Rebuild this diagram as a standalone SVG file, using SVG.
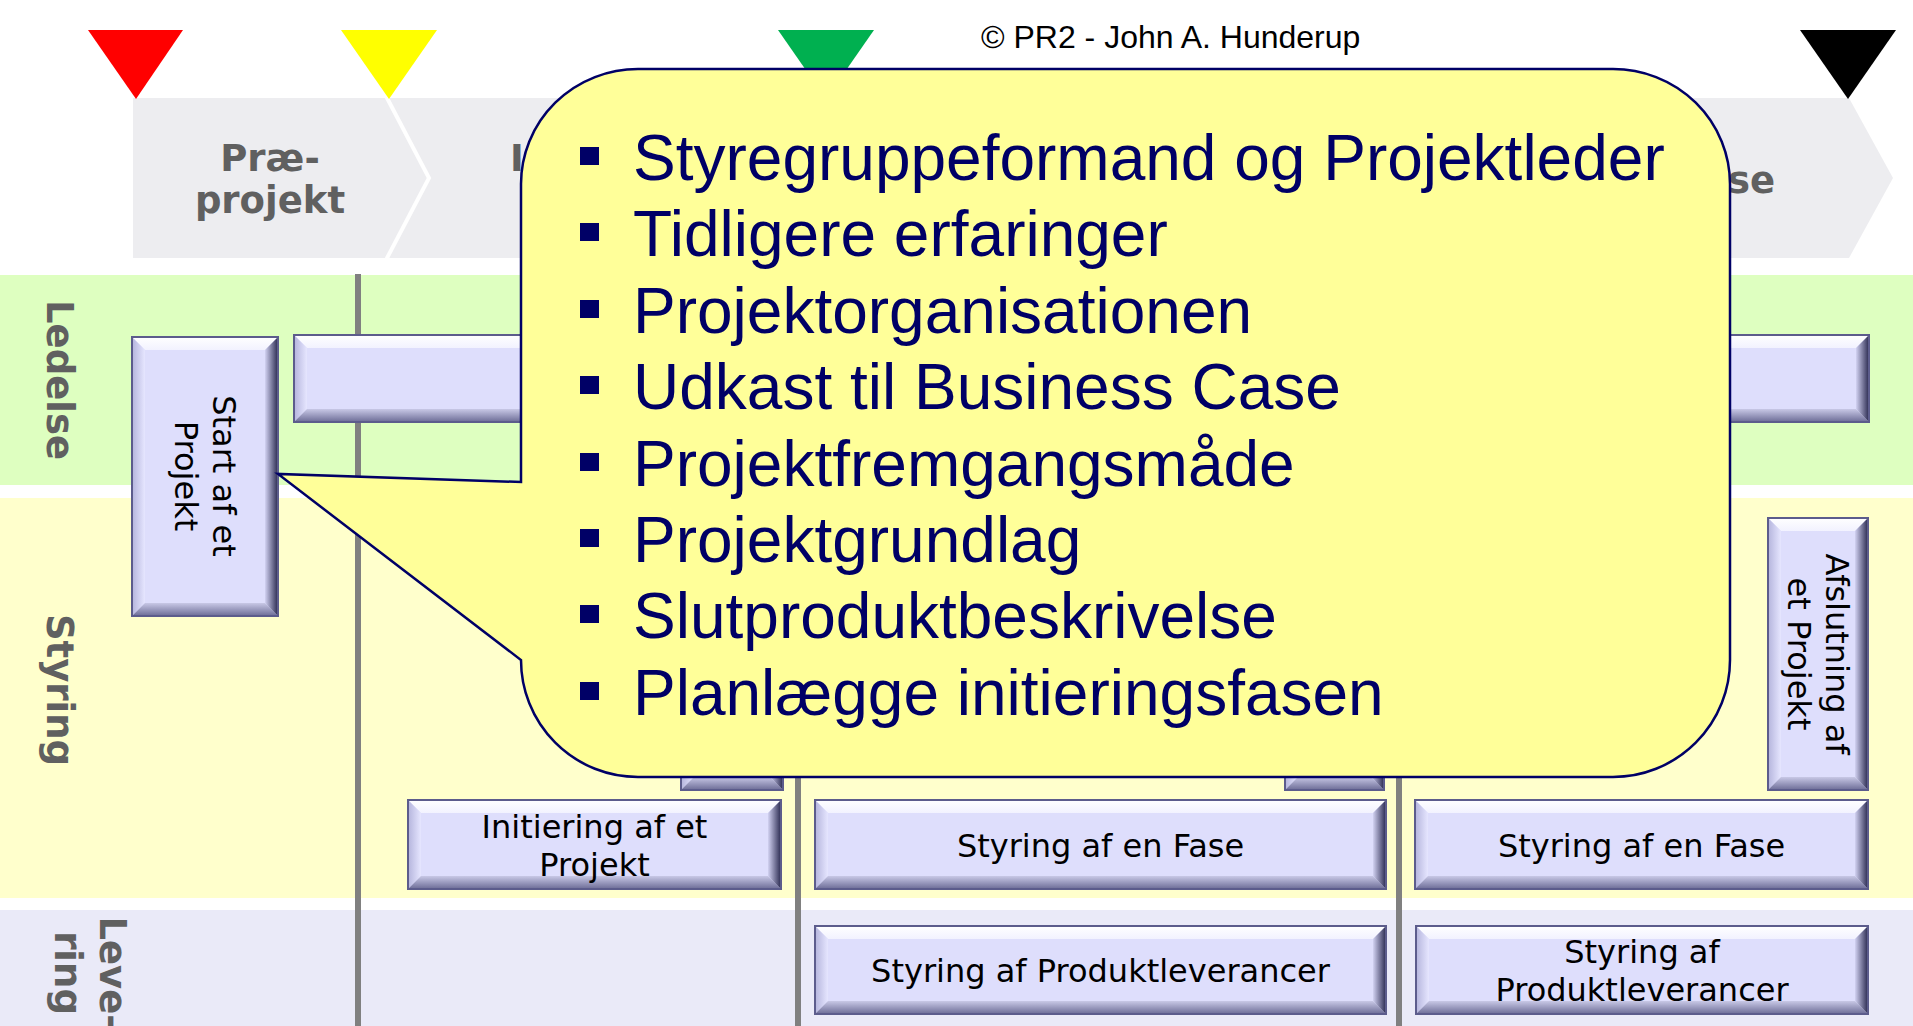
<svg xmlns="http://www.w3.org/2000/svg" width="1913" height="1026" viewBox="0 0 1913 1026">
<defs>
<linearGradient id="gTop" x1="0" y1="0" x2="0" y2="1"><stop offset="0" stop-color="#FFFFFF"/><stop offset="1" stop-color="#F2F2FF"/></linearGradient>
<linearGradient id="gLeft" x1="0" y1="0" x2="1" y2="0"><stop offset="0" stop-color="#B4B4DC"/><stop offset="1" stop-color="#E6E6FF"/></linearGradient>
<linearGradient id="gBottom" x1="0" y1="0" x2="0" y2="1"><stop offset="0" stop-color="#C8C8E6"/><stop offset="1" stop-color="#6C6C96"/></linearGradient>
<linearGradient id="gRight" x1="0" y1="0" x2="1" y2="0"><stop offset="0" stop-color="#D2D2F2"/><stop offset="1" stop-color="#2A2A50"/></linearGradient>
<style>
.face{fill:#DEDEFC}
.bt{fill:url(#gTop)}
.bl{fill:url(#gLeft)}
.bb{fill:url(#gBottom)}
.br{fill:url(#gRight)}
.edge{fill:none;stroke:#5C5C8C;stroke-width:2}
.bx{font-family:"DejaVu Sans",Verdana,sans-serif;font-size:32px;fill:#000;text-anchor:middle}
.lbl{font-family:"DejaVu Sans",Verdana,sans-serif;font-weight:bold;font-size:37px;fill:#606060;text-anchor:middle}
.co{font-family:"Liberation Sans",Arial,sans-serif;font-size:64px;fill:#000066}
.bul{fill:#000066}
.grid{stroke:#808080;stroke-width:6}
</style>
</defs>
<rect x="0" y="0" width="1913" height="1026" fill="#FFFFFF"/>
<g id="lanes">
<rect x="0" y="275" width="1913" height="210" fill="#DEFFC0"/>
<rect x="0" y="498" width="1913" height="400" fill="#FFFFCC"/>
<rect x="0" y="910" width="1913" height="116" fill="#EAEAF8"/>
</g>
<g id="phases">
<polygon points="133,98 1849,98 1893,178 1849,258 133,258" fill="#EDEDF0"/>
<polyline points="386,96 429,178 386,260" fill="none" stroke="#FFFFFF" stroke-width="4"/>
<text class="lbl" x="270" y="171">Præ-</text>
<text class="lbl" x="270" y="213">projekt</text>
<text class="lbl" x="517" y="171">I</text>
<text class="lbl" x="1775" y="193" style="text-anchor:end">se</text>
</g>
<g id="milestones">
<polygon points="88,30 183,30 136,99" fill="#FF0000"/>
<polygon points="341,30 437,30 389,99" fill="#FFFF00"/>
<polygon points="778,30 874,30 826,99" fill="#00B050"/>
<polygon points="1800,30 1896,30 1848,99" fill="#000000"/>
</g>
<g id="connectors">
<line class="grid" x1="358" y1="274" x2="358" y2="1026"/>
<line class="grid" x1="798" y1="274" x2="798" y2="1026"/>
<line class="grid" x1="1399" y1="274" x2="1399" y2="1026"/>
</g>
<g id="lane-labels">
<text class="lbl" transform="translate(47,380) rotate(90)">Ledelse</text>
<text class="lbl" transform="translate(47,690) rotate(90)">Styring</text>
<text class="lbl" transform="translate(100,973) rotate(90)">Leve-</text>
<text class="lbl" transform="translate(55,973) rotate(90)">ring</text>
</g>
<g id="box-start">
<rect class="face" x="132" y="337" width="146" height="279"/>
<polygon class="bt" points="132,337 278,337 265,350 145,350"/>
<polygon class="bl" points="132,337 145,350 145,603 132,616"/>
<polygon class="bb" points="132,616 145,603 265,603 278,616"/>
<polygon class="br" points="278,337 265,350 265,603 278,616"/>
<rect class="edge" x="132" y="337" width="146" height="279"/>
<g transform="translate(205,476) rotate(90)">
<text class="bx" x="0" y="-8">Start af et</text>
<text class="bx" x="0" y="30">Projekt</text>
</g>
</g>
<g id="box-ledelse">
<rect class="face" x="294" y="335" width="1575" height="87"/>
<polygon class="bt" points="294,335 1869,335 1856,348 307,348"/>
<polygon class="bl" points="294,335 307,348 307,409 294,422"/>
<polygon class="bb" points="294,422 307,409 1856,409 1869,422"/>
<polygon class="br" points="1869,335 1856,348 1856,409 1869,422"/>
<rect class="edge" x="294" y="335" width="1575" height="87"/>
</g>
<g id="box-afslutning">
<rect class="face" x="1768" y="518" width="100" height="272"/>
<polygon class="bt" points="1768,518 1868,518 1855,531 1781,531"/>
<polygon class="bl" points="1768,518 1781,531 1781,777 1768,790"/>
<polygon class="bb" points="1768,790 1781,777 1855,777 1868,790"/>
<polygon class="br" points="1868,518 1855,531 1855,777 1868,790"/>
<rect class="edge" x="1768" y="518" width="100" height="272"/>
<g transform="translate(1818,654) rotate(90)">
<text class="bx" x="0" y="-8">Afslutning af</text>
<text class="bx" x="0" y="30">et Projekt</text>
</g>
</g>
<g id="box-hidden-1">
<rect class="face" x="681" y="518" width="102" height="272"/>
<polygon class="bt" points="681,518 783,518 770,531 694,531"/>
<polygon class="bl" points="681,518 694,531 694,777 681,790"/>
<polygon class="bb" points="681,790 694,777 770,777 783,790"/>
<polygon class="br" points="783,518 770,531 770,777 783,790"/>
<rect class="edge" x="681" y="518" width="102" height="272"/>
</g>
<g id="box-hidden-2">
<rect class="face" x="1285" y="518" width="99" height="272"/>
<polygon class="bt" points="1285,518 1384,518 1371,531 1298,531"/>
<polygon class="bl" points="1285,518 1298,531 1298,777 1285,790"/>
<polygon class="bb" points="1285,790 1298,777 1371,777 1384,790"/>
<polygon class="br" points="1384,518 1371,531 1371,777 1384,790"/>
<rect class="edge" x="1285" y="518" width="99" height="272"/>
</g>
<g id="box-initiering">
<rect class="face" x="408" y="800" width="373" height="89"/>
<polygon class="bt" points="408,800 781,800 768,813 421,813"/>
<polygon class="bl" points="408,800 421,813 421,876 408,889"/>
<polygon class="bb" points="408,889 421,876 768,876 781,889"/>
<polygon class="br" points="781,800 768,813 768,876 781,889"/>
<rect class="edge" x="408" y="800" width="373" height="89"/>
<text class="bx" x="594.5" y="838">Initiering af et</text>
<text class="bx" x="594.5" y="876">Projekt</text>
</g>
<g id="box-fase-1">
<rect class="face" x="815" y="800" width="571" height="89"/>
<polygon class="bt" points="815,800 1386,800 1373,813 828,813"/>
<polygon class="bl" points="815,800 828,813 828,876 815,889"/>
<polygon class="bb" points="815,889 828,876 1373,876 1386,889"/>
<polygon class="br" points="1386,800 1373,813 1373,876 1386,889"/>
<rect class="edge" x="815" y="800" width="571" height="89"/>
<text class="bx" x="1100.5" y="857">Styring af en Fase</text>
</g>
<g id="box-fase-2">
<rect class="face" x="1415" y="800" width="453" height="89"/>
<polygon class="bt" points="1415,800 1868,800 1855,813 1428,813"/>
<polygon class="bl" points="1415,800 1428,813 1428,876 1415,889"/>
<polygon class="bb" points="1415,889 1428,876 1855,876 1868,889"/>
<polygon class="br" points="1868,800 1855,813 1855,876 1868,889"/>
<rect class="edge" x="1415" y="800" width="453" height="89"/>
<text class="bx" x="1641.5" y="857">Styring af en Fase</text>
</g>
<g id="box-prod-1">
<rect class="face" x="815" y="926" width="571" height="88"/>
<polygon class="bt" points="815,926 1386,926 1373,939 828,939"/>
<polygon class="bl" points="815,926 828,939 828,1001 815,1014"/>
<polygon class="bb" points="815,1014 828,1001 1373,1001 1386,1014"/>
<polygon class="br" points="1386,926 1373,939 1373,1001 1386,1014"/>
<rect class="edge" x="815" y="926" width="571" height="88"/>
<text class="bx" x="1100.5" y="982">Styring af Produktleverancer</text>
</g>
<g id="box-prod-2">
<rect class="face" x="1416" y="926" width="452" height="88"/>
<polygon class="bt" points="1416,926 1868,926 1855,939 1429,939"/>
<polygon class="bl" points="1416,926 1429,939 1429,1001 1416,1014"/>
<polygon class="bb" points="1416,1014 1429,1001 1855,1001 1868,1014"/>
<polygon class="br" points="1868,926 1855,939 1855,1001 1868,1014"/>
<rect class="edge" x="1416" y="926" width="452" height="88"/>
<text class="bx" x="1642" y="963">Styring af</text>
<text class="bx" x="1642" y="1001">Produktleverancer</text>
</g>
<g id="copyright">
<text x="981" y="48" font-family="'Liberation Sans',Arial,sans-serif" font-size="32" fill="#000">© PR2 - John A. Hunderup</text>
</g>
<g id="callout">
<path d="M521,184 A117,115 0 0 1 638,69 H1613 A117,115 0 0 1 1730,184 V660 A117,117 0 0 1 1613,777 H638 A117,117 0 0 1 521,660 L278,474 L521,482 Z" fill="#FFFF99" stroke="#000066" stroke-width="2.5" stroke-linejoin="miter"/>
<rect class="bul" x="580" y="147" width="19" height="18"/>
<rect class="bul" x="580" y="223" width="19" height="18"/>
<rect class="bul" x="580" y="300" width="19" height="18"/>
<rect class="bul" x="580" y="376" width="19" height="18"/>
<rect class="bul" x="580" y="453" width="19" height="18"/>
<rect class="bul" x="580" y="529" width="19" height="18"/>
<rect class="bul" x="580" y="605" width="19" height="18"/>
<rect class="bul" x="580" y="682" width="19" height="18"/>
<text class="co" x="633" y="180">Styregruppeformand og Projektleder</text>
<text class="co" x="633" y="256">Tidligere erfaringer</text>
<text class="co" x="633" y="333">Projektorganisationen</text>
<text class="co" x="633" y="409">Udkast til Business Case</text>
<text class="co" x="633" y="486">Projektfremgangsmåde</text>
<text class="co" x="633" y="562">Projektgrundlag</text>
<text class="co" x="633" y="638">Slutproduktbeskrivelse</text>
<text class="co" x="633" y="715">Planlægge initieringsfasen</text>
</g>
</svg>
